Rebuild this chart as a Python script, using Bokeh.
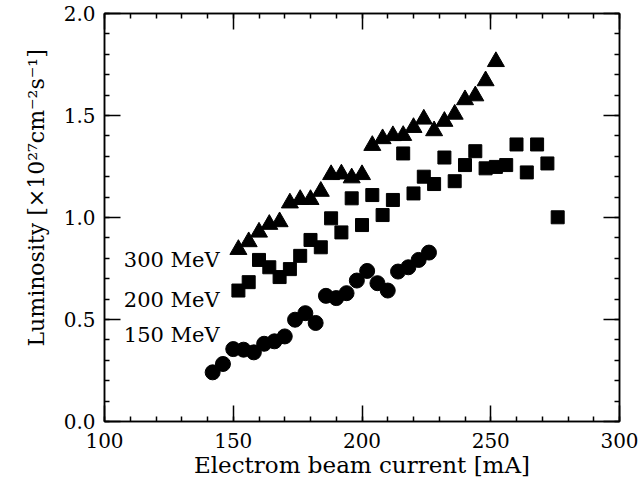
from bokeh.plotting import figure
from bokeh.models import Range1d, LinearAxis, SingleIntervalTicker, PrintfTickFormatter, CustomJSTickFormatter, Title
from bokeh.core.properties import value
from bokeh.embed import file_html
from bokeh.resources import INLINE

# 150 MeV (circles)
x150 = [142, 146, 150, 154, 158, 162, 166, 170, 174, 178, 182, 186, 190, 194, 198, 202, 206, 210, 214, 218, 222, 226]
y150 = [0.241, 0.282, 0.355, 0.352, 0.339, 0.381, 0.393, 0.417, 0.499, 0.531, 0.483, 0.616, 0.605, 0.629, 0.691, 0.738, 0.678, 0.642, 0.735, 0.756, 0.792, 0.828]

# 200 MeV (squares)
x200 = [152, 156, 160, 164, 168, 172, 176, 180, 184, 188, 192, 196, 200, 204, 208, 212, 216, 220, 224, 228, 232, 236, 240, 244, 248, 252, 256, 260, 264, 268, 272, 276]
y200 = [0.642, 0.683, 0.792, 0.756, 0.708, 0.747, 0.812, 0.890, 0.854, 0.996, 0.927, 1.094, 0.963, 1.110, 1.012, 1.086, 1.314, 1.118, 1.200, 1.164, 1.294, 1.178, 1.257, 1.325, 1.241, 1.248, 1.257, 1.358, 1.221, 1.358, 1.265, 1.001]

# 300 MeV (triangles)
x300 = [152, 156, 160, 164, 168, 172, 176, 180, 184, 188, 192, 196, 200, 204, 208, 212, 216, 220, 224, 228, 232, 236, 240, 244, 248, 252]
y300 = [0.843, 0.881, 0.928, 0.966, 0.979, 1.071, 1.088, 1.088, 1.128, 1.210, 1.213, 1.194, 1.210, 1.353, 1.386, 1.401, 1.402, 1.441, 1.482, 1.425, 1.471, 1.506, 1.577, 1.596, 1.670, 1.764]

label_text = ["300 MeV", "200 MeV", "150 MeV"]
label_x = [107.5, 107.5, 107.5]
label_y = [0.79, 0.596, 0.424]

x_title = "Electrom beam current [mA]"
y_title = "Luminosity [×10²⁷cm⁻²s⁻¹]"

FONT = "DejaVu Serif"

p = figure(width=640, height=486, output_backend="svg", toolbar_location=None,
           x_range=Range1d(100, 300), y_range=Range1d(0, 2),
           min_border_left=104, min_border_right=21, min_border_top=13, min_border_bottom=65)
p.grid.visible = False
p.background_fill_color = "white"
p.outline_line_color = "black"
p.outline_line_width = 1.5

p.scatter(x150, y150, marker="circle", size=15, color="black")
p.scatter(x200, y200, marker="square", size=13, color="black")
p.scatter(x300, y300, marker="triangle", size=17, color="black")

p.text(x=label_x, y=label_y, text=label_text, text_font=value(FONT), text_font_size="21px",
       text_align="left", text_baseline="middle", text_color="black")

def style(ax, ticker):
    ax.ticker = ticker
    ax.major_tick_in = 16
    ax.major_tick_out = 0
    ax.minor_tick_in = 5
    ax.minor_tick_out = 0
    ax.major_tick_line_color = "black"
    ax.minor_tick_line_color = "black"
    ax.major_tick_line_width = 1.5
    ax.minor_tick_line_width = 1.5
    ax.axis_line_color = "black"
    ax.axis_line_width = 1.5
    ax.major_label_text_font = FONT
    ax.major_label_text_font_size = "20px"
    ax.major_label_text_color = "black"
    ax.axis_label_text_font = FONT
    ax.axis_label_text_font_size = "23px"
    ax.axis_label_text_font_style = "normal"
    ax.axis_label_text_color = "black"

style(p.xaxis[0], SingleIntervalTicker(interval=50, num_minor_ticks=5))
style(p.yaxis[0], SingleIntervalTicker(interval=0.5, num_minor_ticks=5))
p.xaxis[0].axis_label = x_title
p.yaxis[0].formatter = PrintfTickFormatter(format="%.1f")
p.xaxis[0].major_label_standoff = 11
p.yaxis[0].major_label_standoff = 9
p.xaxis[0].axis_label_standoff = 1

blank = CustomJSTickFormatter(code="return ''")
top = LinearAxis(formatter=blank)
style(top, SingleIntervalTicker(interval=50, num_minor_ticks=5))
top.major_label_text_font_size = "0px"
right = LinearAxis(formatter=blank)
style(right, SingleIntervalTicker(interval=0.5, num_minor_ticks=5))
right.major_label_text_font_size = "0px"
p.add_layout(top, "above")
p.add_layout(right, "right")

ytitle = Title(text=y_title, align="left", offset=75, standoff=24,
               text_font=FONT, text_font_size="22px", text_font_style="normal",
               text_color="black")
p.add_layout(ytitle, "left")

open("out.html", "w").write(file_html(p, INLINE))
